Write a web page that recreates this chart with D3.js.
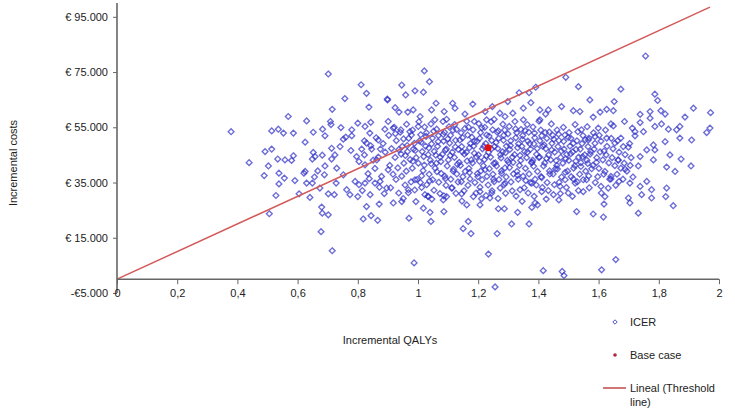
<!DOCTYPE html>
<html>
<head>
<meta charset="utf-8">
<script src="https://cdn.jsdelivr.net/npm/d3@7"></script>
<style>
  html, body { margin: 0; padding: 0; background: #fff; }
  svg { display: block; font-family: "Liberation Sans", Arial, sans-serif; }
  .tick-label { font-size: 11px; fill: #222; }
  .axis-title { font-size: 11px; fill: #222; }
  .legend-text { font-size: 11px; fill: #222; }
</style>
</head>
<body>
<svg id="chart" width="735" height="410"></svg>
<script>
// Probabilistic sensitivity analysis: incremental QALYs vs incremental costs (thousands of €)
const qalyTicks = [0, 0.2, 0.4, 0.6, 0.8, 1, 1.2, 1.4, 1.6, 1.8, 2];
const qalyTickLabels = ["0", "0,2", "0,4", "0,6", "0,8", "1", "1,2", "1,4", "1,6", "1,8", "2"];
const costTicks = [-5, 15, 35, 55, 75, 95];
const costTickLabels = ["-€5.000", "€ 15.000", "€ 35.000", "€ 55.000", "€ 75.000", "€ 95.000"];

const baseCase = [1.233, 47.6];
const thresholdLine = [[0, 0], [1.97, 98.5]];

// sparse points around the cloud, read one by one
const icerOuter = [
  [0.702,74.3],[0.811,70.4],[0.829,67.3],[0.757,65.4],[0.898,65.2],[0.837,62.3],[0.715,61.5],[0.569,58.9],
  [0.630,57.3],[0.709,57.1],[0.711,56.0],[0.800,56.5],[0.843,56.8],[0.379,53.4],[0.514,53.7],[0.536,54.3],
  [0.553,52.9],[0.586,52.9],[0.652,53.2],[0.683,54.3],[0.691,51.9],[0.744,54.9],[0.780,54.1],[0.824,55.3],
  [0.840,52.9],[0.625,49.6],[0.752,50.7],[0.760,51.4],[0.780,51.9],[0.822,50.1],[0.829,49.3],[0.868,50.4],
  [0.890,54.3],[0.492,46.2],[0.514,47.1],[0.652,45.9],[0.713,47.4],[0.741,48.0],[0.777,46.6],[0.813,47.1],
  [0.846,47.1],[0.875,47.1],[0.439,42.2],[0.503,41.0],[0.534,43.5],[0.558,43.2],[0.580,43.0],[0.586,44.7],
  [0.649,43.5],[0.658,44.4],[0.682,44.9],[0.691,41.0],[0.713,43.5],[0.724,45.0],[0.730,40.2],[0.796,44.4],
  [0.804,42.6],[0.824,41.4],[0.863,43.2],[0.625,39.0],[0.667,39.2],[0.901,39.6],
  [0.489,37.5],[0.538,38.4],[0.556,36.6],[0.538,34.5],[0.591,35.7],[0.621,38.4],[0.630,34.8],[0.649,34.8],
  [0.656,37.0],[0.689,37.8],[0.674,33.0],[0.528,30.3],[0.605,30.9],[0.641,29.6],[0.702,30.9],[0.722,30.6],
  [0.728,34.8],[0.752,37.8],[0.763,32.4],[0.774,30.6],[0.791,35.4],[0.804,34.2],[0.800,29.9],[0.824,34.8],
  [0.841,30.6],[0.857,34.8],[0.874,35.4],[0.896,33.0],[0.506,23.7],[0.680,26.1],[0.682,23.9],[0.702,23.3],
  [0.829,26.3],[0.871,27.2],[0.844,23.0],[0.818,21.8],[0.866,21.3],[0.678,17.2],[0.715,10.3],
  [1.021,75.4],[1.038,71.5],[0.946,70.3],[0.990,68.2],[1.018,67.7],[0.959,66.7],[0.899,64.9],[1.060,63.7],
  [1.115,63.7],[1.182,63.4],[0.924,62.1],[0.937,60.5],[0.966,60.5],[0.984,61.3],[1.045,61.3],[1.007,58.9],
  [1.087,60.7],[1.123,61.9],[1.156,59.8],[1.298,64.3],[1.336,67.5],[1.369,67.5],[1.391,69.5],[1.375,63.9],
  [1.247,62.5],[1.272,60.1],[1.223,60.7],[1.315,60.1],[1.350,61.9],[1.405,61.3],[0.901,57.1],[1.056,57.7],
  [1.095,57.9],[1.187,57.1],[1.228,57.7],[1.253,57.9],[1.289,58.9],[1.350,57.7],[1.405,57.7],[1.424,59.8],
  [0.918,54.7],[0.943,54.1],[1.001,55.3],[0.973,53.4],
  [1.491,73.1],[1.533,69.7],[1.674,68.8],[1.571,64.9],[1.652,64.3],[1.787,67.0],[1.796,64.7],[1.915,61.9],
  [1.972,60.3],[1.605,60.5],[1.627,61.5],[1.649,61.0],[1.538,60.7],[1.516,61.0],[1.477,62.5],[1.433,61.3],
  [1.738,59.7],[1.771,60.7],[1.807,61.0],[1.821,59.8],[1.771,58.3],[1.887,58.7],[1.582,58.7],[1.686,57.1],
  [1.738,56.7],[1.809,56.2],[1.641,56.2],[1.649,55.5],[1.599,54.7],[1.712,54.7],[1.721,53.4],[1.749,53.4],
  [1.787,55.3],[1.832,54.3],[1.859,54.1],[1.870,55.3],[1.959,53.1],[1.970,54.7],[1.674,51.1],[1.721,51.9],
  [1.821,49.8],[1.870,51.1],[1.909,50.4],[1.627,51.1],[1.566,50.4],[1.654,49.3],[1.699,47.8],[1.760,46.8],
  [1.782,48.6],[1.787,46.8],[1.837,45.0],[1.874,43.5],[1.907,41.0],[1.782,43.2],[1.738,44.4],[1.826,40.6],
  [1.854,39.0],[1.732,41.0],[1.665,43.2],[1.688,39.8],[1.756,80.8],
  [0.970,22.1],[1.018,25.7],[1.040,24.2],[1.043,20.9],[1.086,24.5],[1.162,26.9],[1.206,26.9],[1.167,20.9],
  [1.150,18.3],[1.176,16.5],[1.263,16.5],[1.267,25.5],[1.287,25.5],[1.331,24.2],[1.311,20.0],[1.369,20.0],
  [1.389,27.6],[1.397,26.9],[1.378,26.0],[1.234,9.1],[0.987,5.9],[1.416,3.1],[1.023,30.6],[1.034,29.9],
  [0.918,27.6],[0.946,28.1],[0.968,32.4],[0.990,36.0],[1.084,28.7],[1.095,29.9],[1.112,33.0],[1.145,30.9],
  [1.184,29.9],[1.206,31.7],[1.239,29.4],[1.245,31.2],[1.289,34.8],[1.339,32.4],[1.411,31.7],[1.378,34.8],
  [1.527,24.5],[1.582,23.6],[1.616,22.5],[1.732,23.9],[1.848,26.6],[1.618,27.2],[1.621,29.9],[1.704,27.6],
  [1.699,29.4],[1.743,30.6],[1.776,29.4],[1.823,29.9],[1.776,32.4],[1.826,33.0],[1.760,35.4],[1.738,33.6],
  [1.468,28.7],[1.450,30.6],[1.499,31.2],[1.549,31.7],[1.472,33.6],[1.522,34.8],[1.560,36.0],[1.608,33.6],
  [1.632,33.0],[1.668,35.4],[1.641,36.3],[1.704,34.8],[1.657,7.1],[1.610,3.4],[1.479,2.8],[1.485,1.3],
  [1.256,-2.8]
];

// dense core of the cloud, estimated
const icerCore = [
  [0.822,45.0],[0.834,38.2],[0.815,32.1],[0.843,48.3],[0.851,43.1],[0.838,36.4],[0.861,51.2],[0.868,44.2],
  [0.857,40.1],[0.872,33.3],[0.884,49.1],[0.891,46.0],[0.879,37.2],[0.888,31.0],
  [0.903,52.1],[0.912,47.3],[0.906,41.2],[0.917,38.0],[0.909,33.1],
  [0.921,55.0],[0.928,50.2],[0.924,44.1],[0.933,40.3],[0.927,36.1],[0.936,31.2],
  [0.941,53.2],[0.948,48.1],[0.944,45.3],[0.953,42.0],[0.946,37.3],[0.957,34.1],[0.951,29.2],
  [0.962,56.1],[0.969,51.0],[0.965,46.2],[0.974,43.3],[0.961,39.1],[0.977,35.2],[0.968,31.3],
  [0.982,54.0],[0.988,49.2],[0.985,47.1],[0.994,44.0],[0.981,40.2],[0.997,36.1],[0.989,32.3],[0.993,28.1],
  [1.003,57.0],[1.009,52.3],[1.005,50.1],[1.014,46.2],[1.001,42.0],[1.017,39.3],[1.008,35.0],[1.012,33.2],
  [1.022,55.1],[1.028,53.0],[1.025,48.2],[1.034,45.1],[1.021,41.3],[1.037,38.0],[1.029,34.2],[1.033,30.1],
  [1.043,56.2],[1.048,51.1],[1.045,49.0],[1.054,46.3],[1.041,43.1],[1.057,40.2],[1.049,36.0],[1.053,32.2],[1.046,29.0],
  [1.062,54.3],[1.068,52.0],[1.065,48.1],[1.074,44.2],[1.061,42.0],[1.077,38.3],[1.069,35.1],[1.073,31.0],
  [1.083,57.1],[1.088,53.2],[1.085,50.0],[1.094,47.1],[1.081,45.2],[1.097,41.0],[1.089,37.3],[1.093,34.0],[1.086,30.2],
  [1.103,55.2],[1.108,52.1],[1.105,49.3],[1.114,46.0],[1.101,43.2],[1.117,39.1],[1.109,36.2],[1.113,33.1],
  [1.122,56.0],[1.128,54.2],[1.125,50.3],[1.134,47.0],[1.121,44.1],[1.137,42.3],[1.129,38.1],[1.133,35.2],[1.126,31.1],
  [1.143,53.0],[1.148,51.2],[1.145,48.0],[1.154,45.3],[1.141,41.2],[1.157,39.0],[1.149,37.1],[1.153,32.0],[1.146,28.3],
  [1.162,57.2],[1.168,55.0],[1.165,52.2],[1.174,49.1],[1.161,46.0],[1.177,43.2],[1.169,40.1],[1.173,36.3],[1.166,34.0],
  [1.183,54.1],[1.188,50.0],[1.185,48.2],[1.194,44.3],[1.181,42.1],[1.197,38.2],[1.189,35.0],[1.193,31.2],
  [1.202,56.3],[1.208,53.1],[1.205,51.0],[1.214,47.2],[1.201,45.0],[1.217,41.1],[1.209,39.2],[1.213,36.0],[1.206,33.3],[1.211,29.1],
  [1.222,55.0],[1.228,52.2],[1.225,49.1],[1.234,46.0],[1.221,43.3],[1.237,40.0],[1.229,37.2],[1.233,34.1],[1.226,30.3],
  [1.243,57.0],[1.248,54.1],[1.245,50.2],[1.254,48.0],[1.241,44.2],[1.257,42.1],[1.249,38.0],[1.253,35.3],[1.246,32.0],
  [1.263,53.2],[1.268,51.0],[1.265,47.3],[1.274,45.1],[1.261,41.0],[1.277,39.2],[1.269,36.1],[1.273,33.0],[1.266,29.2],
  [1.282,56.1],[1.288,54.0],[1.285,52.1],[1.294,48.2],[1.281,46.1],[1.297,43.0],[1.289,40.3],[1.293,37.0],[1.286,34.2],[1.291,31.1],
  [1.303,55.3],[1.308,50.1],[1.305,47.0],[1.314,44.2],[1.301,42.3],[1.317,38.1],[1.309,35.2],[1.313,32.0],
  [1.322,57.1],[1.328,53.0],[1.325,51.2],[1.334,49.0],[1.321,45.1],[1.337,41.2],[1.329,39.0],[1.333,36.2],[1.326,30.1],
  [1.342,54.2],[1.348,52.0],[1.345,48.1],[1.354,46.2],[1.341,43.0],[1.357,40.1],[1.349,37.3],[1.353,33.1],[1.346,28.2],
  [1.363,56.0],[1.368,53.2],[1.365,50.0],[1.374,47.1],[1.361,44.0],[1.377,42.2],[1.369,38.1],[1.373,35.0],[1.366,31.2],
  [1.382,55.1],[1.388,51.2],[1.385,49.0],[1.394,45.2],[1.381,43.1],[1.397,39.0],[1.389,36.2],[1.393,34.1],[1.386,30.0],
  [1.402,57.2],[1.408,54.0],[1.405,50.1],[1.414,48.2],[1.401,44.1],[1.417,41.0],[1.409,37.1],[1.413,33.2],
  [1.423,53.1],[1.428,51.0],[1.425,47.2],[1.434,45.0],[1.421,42.1],[1.437,39.2],[1.429,35.0],[1.433,32.1],[1.426,29.0],
  [1.443,56.2],[1.448,52.1],[1.445,49.2],[1.454,46.0],[1.441,43.2],[1.457,40.0],[1.449,38.1],[1.453,34.2],
  [1.462,54.0],[1.468,50.2],[1.465,48.0],[1.474,44.1],[1.461,41.2],[1.477,37.0],[1.469,35.1],[1.473,31.0],
  [1.483,55.0],[1.488,52.2],[1.485,47.1],[1.494,45.2],[1.481,42.0],[1.497,39.1],[1.489,36.0],[1.493,33.2],
  [1.502,53.1],[1.508,51.0],[1.505,48.2],[1.514,46.1],[1.501,43.0],[1.517,40.2],[1.509,37.1],[1.513,30.0],
  [1.522,56.0],[1.528,50.1],[1.525,47.0],[1.534,44.2],[1.521,41.1],[1.537,38.0],[1.529,35.2],[1.533,32.1],
  [1.543,54.1],[1.548,52.0],[1.545,49.1],[1.554,45.0],[1.541,42.2],[1.557,39.1],[1.549,36.0],
  [1.562,55.2],[1.568,51.1],[1.565,48.0],[1.574,46.2],[1.561,43.1],[1.577,40.0],[1.569,33.1],
  [1.583,53.0],[1.588,49.2],[1.585,47.1],[1.594,44.0],[1.581,41.2],[1.597,37.1],[1.589,35.0],
  [1.602,52.1],[1.608,50.0],[1.605,46.1],[1.614,43.2],[1.601,40.1],[1.617,38.0],[1.609,31.2],
  [1.623,54.0],[1.628,48.1],[1.625,45.0],[1.634,42.1],[1.621,39.0],[1.637,36.2],
  [1.642,51.0],[1.648,47.2],[1.645,44.0],[1.654,41.1],[1.641,37.2],[1.657,34.0],
  [1.663,50.1],[1.668,46.0],[1.665,43.1],[1.674,40.2],[1.661,38.0],
  [1.682,48.0],[1.688,45.1],[1.685,42.0],[1.694,39.1],[1.681,36.2],
  [1.703,49.1],[1.708,44.0],[1.705,41.2],[1.714,37.0]
];

// darkest part of the cloud, where markers overlap most
const icerDense = [
  [1.011,49.6],[1.019,44.4],[1.027,51.7],[1.036,47.5],[1.044,41.8],[1.052,53.6],[1.059,44.9],[1.067,49.8],
  [1.076,42.6],[1.084,52.4],[1.091,46.7],[1.099,50.8],[1.107,44.8],[1.116,53.9],[1.124,47.9],[1.131,41.6],
  [1.139,50.4],[1.147,46.1],[1.156,54.6],[1.163,42.8],[1.171,47.6],[1.179,51.4],[1.187,45.6],[1.196,49.9],
  [1.204,42.7],[1.212,54.8],[1.219,48.1],[1.227,44.6],[1.236,51.8],[1.244,47.2],[1.252,41.9],[1.259,49.5],
  [1.267,53.7],[1.276,43.9],[1.284,50.3],[1.291,45.8],[1.299,52.6],[1.307,48.4],[1.316,42.3],[1.324,54.4],
  [1.331,47.6],[1.339,44.8],[1.347,50.6],[1.356,53.8],[1.363,45.9],[1.371,49.1],[1.379,42.4],[1.387,52.9],
  [1.396,47.3],[1.404,44.2],[1.411,51.9],[1.419,48.6],[1.427,43.7],[1.436,53.3],[1.444,46.8],[1.451,50.7],
  [1.459,42.9],[1.467,52.5],[1.476,46.4],[1.484,49.9],[1.491,43.6],[1.499,51.3],[1.507,45.4],[1.516,49.2],
  [1.524,42.7],[1.531,53.4],[1.539,47.1],[1.547,44.3],[1.556,50.5],[1.564,41.9],[1.572,45.3],[1.588,51.6],
  [1.012,37.4],[1.039,35.6],[1.063,38.9],[1.091,36.4],[1.118,39.8],[1.144,35.3],[1.171,38.6],[1.199,37.1],
  [1.223,39.6],[1.251,36.2],[1.278,38.3],[1.304,40.4],[1.331,37.6],[1.358,35.7],[1.384,40.9],[1.411,36.8],
  [1.438,38.1],[1.463,39.9],[1.489,38.7],[1.516,36.3],[1.541,40.8],[1.567,37.4],[1.593,42.3],[1.618,46.4],
  [0.952,50.8],[0.964,48.4],[0.978,52.2],[0.991,46.6],[0.958,44.8],[0.983,42.7],[0.936,46.9],[0.925,52.7]
];

const icerPoints = icerOuter.concat(icerCore, icerDense);

const width = 735;
const height = 410;
const svg = d3.select("#chart");

const x = d3.scaleLinear().domain([0, 2]).range([117, 719]);
const y = d3.scaleLinear().domain([-5, 100]).range([293, 3]);

const diamond = "M0,-2.9L2.9,0L0,2.9L-2.9,0Z";

// scatter cloud
svg.append("g")
  .selectAll("path")
  .data(icerPoints)
  .join("path")
  .attr("d", diamond)
  .attr("transform", d => `translate(${x(d[0])},${y(d[1])})`)
  .attr("fill", "none")
  .attr("stroke", "#3232c8")
  .attr("stroke-opacity", 0.72)
  .attr("stroke-width", 1.35);

// threshold line
svg.append("line")
  .attr("x1", x(thresholdLine[0][0])).attr("y1", y(thresholdLine[0][1]))
  .attr("x2", x(thresholdLine[1][0])).attr("y2", y(thresholdLine[1][1]))
  .attr("stroke", "#d45a5a")
  .attr("stroke-width", 1.5);

// base case
svg.append("circle")
  .attr("cx", x(baseCase[0]))
  .attr("cy", y(baseCase[1]))
  .attr("r", 3.5)
  .attr("fill", "#e01010");

// y axis
const yAxis = svg.append("g").attr("transform", `translate(${x(0)},0)`);
yAxis.call(d3.axisLeft(y).tickValues(costTicks).tickSize(4).tickFormat((d, i) => costTickLabels[i]));
yAxis.select(".domain").attr("stroke", "#666").attr("stroke-width", 1.6).attr("d", `M0,${y(-5)}V${y(100)}`);
yAxis.selectAll(".tick line").attr("stroke", "#666");
yAxis.selectAll(".tick text")
  .attr("class", "tick-label")
  .attr("x", -9)
  .style("font-family", "Liberation Sans, Arial, sans-serif")
  .style("font-size", "11px");

// x axis crossing at zero cost
const xAxis = svg.append("g").attr("transform", `translate(0,${y(0)})`);
xAxis.call(d3.axisBottom(x).tickValues(qalyTicks).tickSize(5).tickFormat((d, i) => qalyTickLabels[i]));
xAxis.select(".domain").attr("stroke", "#666").attr("stroke-width", 1.6).attr("d", `M${x(0)},0H${x(2)}`);
xAxis.selectAll(".tick line").attr("stroke", "#666");
xAxis.selectAll(".tick text")
  .attr("class", "tick-label")
  .attr("y", 10)
  .style("font-family", "Liberation Sans, Arial, sans-serif")
  .style("font-size", "11px");

// axis titles
svg.append("text")
  .attr("class", "axis-title")
  .attr("text-anchor", "middle")
  .attr("transform", "translate(17,163) rotate(-90)")
  .text("Incremental costs");

svg.append("text")
  .attr("class", "axis-title")
  .attr("x", 390)
  .attr("y", 344)
  .attr("text-anchor", "middle")
  .text("Incremental QALYs");

// legend
const legend = svg.append("g");
legend.append("path")
  .attr("d", "M0,-2.2L2.2,0L0,2.2L-2.2,0Z")
  .attr("transform", "translate(615,322)")
  .attr("fill", "none")
  .attr("stroke", "#5050c0")
  .attr("stroke-width", 1);
legend.append("text").attr("class", "legend-text").attr("x", 630).attr("y", 326).text("ICER");

legend.append("circle").attr("cx", 615).attr("cy", 355).attr("r", 1.8).attr("fill", "#b02840");
legend.append("text").attr("class", "legend-text").attr("x", 630).attr("y", 359).text("Base case");

legend.append("line")
  .attr("x1", 603).attr("x2", 626).attr("y1", 388).attr("y2", 388)
  .attr("stroke", "#c04848").attr("stroke-width", 1.5);
legend.append("text").attr("class", "legend-text").attr("x", 630).attr("y", 392).text("Lineal (Threshold");
legend.append("text").attr("class", "legend-text").attr("x", 630).attr("y", 406).text("line)");
</script>
</body>
</html>
